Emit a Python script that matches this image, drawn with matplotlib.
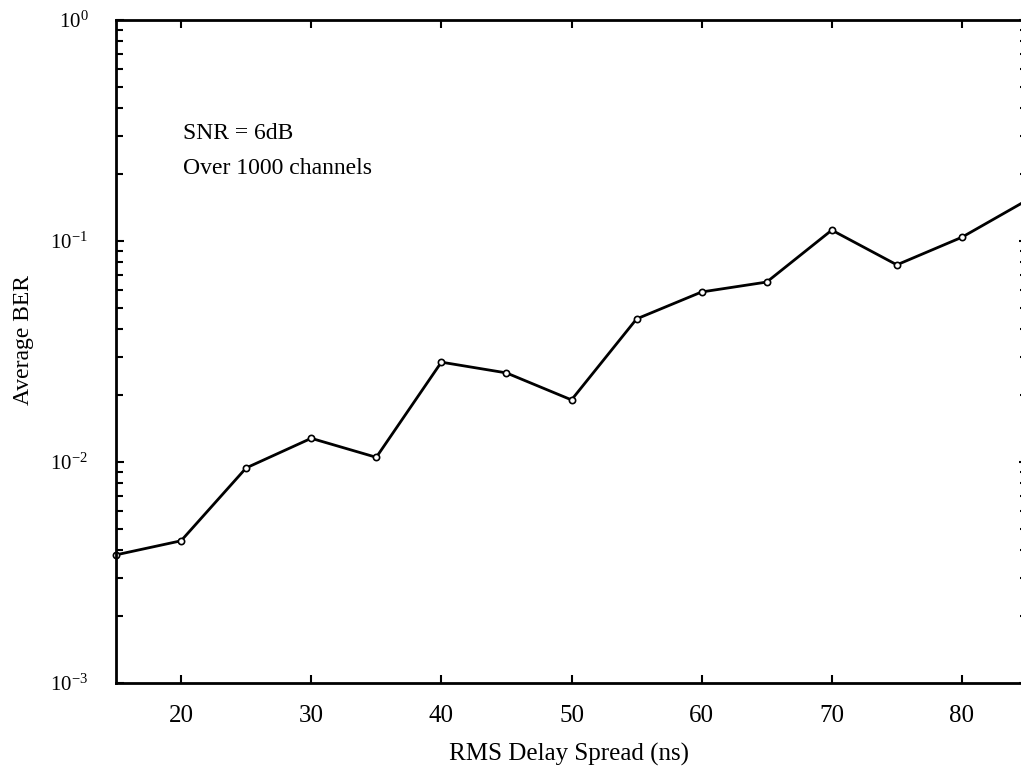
import numpy as np
import matplotlib
matplotlib.use("Agg")
import matplotlib.pyplot as plt
from matplotlib.ticker import LogLocator, FixedLocator, NullFormatter

plt.rcParams["font.family"] = ["Liberation Serif", "DejaVu Serif"]
plt.rcParams["mathtext.fontset"] = "custom"
plt.rcParams["mathtext.rm"] = "Liberation Serif"
plt.rcParams["mathtext.it"] = "Liberation Serif:italic"

# RMS delay spread (ns) and average BER
delay_spread = [15, 20, 25, 30, 35, 40, 45, 50, 55, 60, 65, 70, 75, 80, 85]
avg_ber = [0.0038, 0.0044, 0.0094, 0.0128, 0.0105, 0.0283, 0.0253, 0.0191,
           0.0444, 0.0588, 0.0652, 0.112, 0.078, 0.104, 0.153]

x_ticks = [20, 30, 40, 50, 60, 70, 80]
y_ticks = [1e-3, 1e-2, 1e-1, 1e0]
y_tick_labels = ["$10^{-3}$", "$10^{-2}$", "$10^{-1}$", "$10^{0}$"]

fig = plt.figure(figsize=(10.21, 7.77), dpi=100)
ax = fig.add_axes([116 / 1021, 1 - 683 / 777, (1027 - 116) / 1021, (683 - 20) / 777])

ax.plot(delay_spread, avg_ber, color="black", lw=2, marker="o", ms=4.5,
        mfc="white", mec="black", mew=1.2, clip_on=False)

ax.set_yscale("log")
ax.set_xlim(15, 85)
ax.set_ylim(1e-3, 1e0)

ax.set_xticks(x_ticks)
ax.set_xticklabels([str(t) for t in x_ticks], fontsize=18)
ax.yaxis.set_major_locator(FixedLocator(y_ticks))
ax.set_yticklabels(y_tick_labels, fontsize=15)
ax.yaxis.set_minor_locator(LogLocator(base=10, subs=np.arange(2, 10)))
ax.yaxis.set_minor_formatter(NullFormatter())

ax.tick_params(which="both", direction="in", top=True, right=True, width=1.5)
ax.tick_params(which="major", length=6)
ax.tick_params(axis="x", which="major", pad=16)
ax.tick_params(axis="y", which="major", pad=20)
ax.tick_params(which="minor", length=5)
for s in ax.spines.values():
    s.set_linewidth(2)

ax.set_xlabel("RMS Delay Spread (ns)", fontsize=18)
ax.xaxis.set_label_coords(0.497, -0.09)
ax.set_ylabel("Average BER", fontsize=17)
ax.yaxis.set_label_coords(-0.09, 0.517)

ax.text(0.074, 0.82, "SNR = 6dB", transform=ax.transAxes, fontsize=17)
ax.text(0.074, 0.768, "Over 1000 channels", transform=ax.transAxes, fontsize=17)

fig.savefig("out.png", dpi=100)
